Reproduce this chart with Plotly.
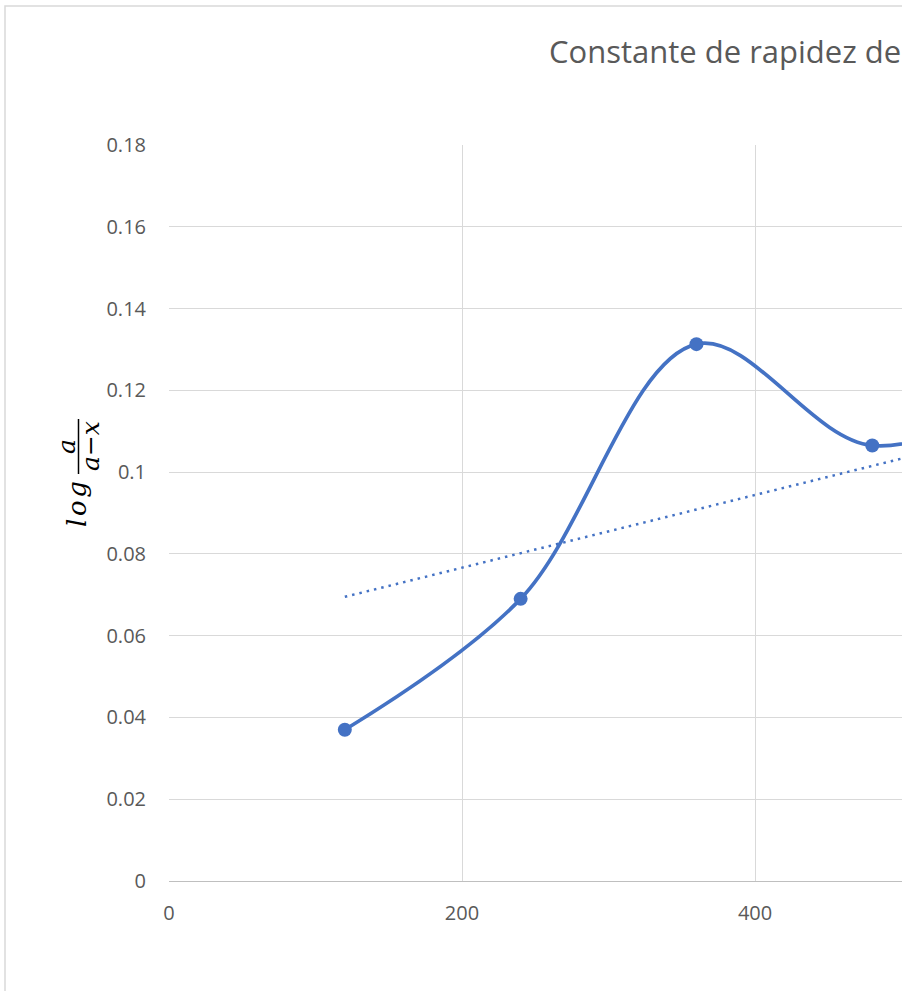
import plotly.graph_objects as go

# Data
time_s = [120, 240, 360, 480, 600]
log_ratio = [0.037, 0.069, 0.1313, 0.1065, 0.122]
trend_x = [120, 600]
trend_y = [0.0695, 0.1122]
x_ticks = [0, 200, 400]
y_ticks = [0, 0.02, 0.04, 0.06, 0.08, 0.1, 0.12, 0.14, 0.16, 0.18]
title_text = "Constante de rapidez de"

VW, VH = 902, 991
PL, PT, PR, PB = 169, 145, 902, 881   # plot area in window pixels
W, H = VW, VH
L, T, R, B = PL, PT, VW - PR, VH - PB
PW, PH = PR - PL, PB - PT

def px(x):
    return (x - PL) / PW

def py(y):
    return (PB - y) / PH

BLUE = "#4472C4"
GREY = "#595959"
GRID = "#d9d9d9"

fig = go.Figure()
fig.add_trace(go.Scatter(
    x=trend_x, y=trend_y, mode="lines",
    line=dict(color=BLUE, width=2.5, dash="2.5px,5px"),
    hoverinfo="skip", showlegend=False,
))
fig.add_trace(go.Scatter(
    x=time_s, y=log_ratio, mode="lines+markers",
    line=dict(color=BLUE, width=3.7, shape="spline", smoothing=1),
    marker=dict(color=BLUE, size=14),
    showlegend=False,
))

fig.update_xaxes(
    range=[0, 500.3], tickvals=x_ticks, showgrid=True, gridcolor=GRID, gridwidth=1.3,
    zeroline=False, showline=True, linecolor="#bfbfbf", linewidth=1.3,
    ticks="outside", ticklen=14, tickcolor="rgba(0,0,0,0)",
    tickfont=dict(family="Open Sans", size=20, color=GREY),
)
fig.update_yaxes(
    range=[0, 0.18], tickvals=y_ticks, showgrid=True, gridcolor=GRID, gridwidth=1.3,
    zeroline=False, showline=False,
    ticks="outside", ticklen=18, tickcolor="rgba(0,0,0,0)",
    tickfont=dict(family="Open Sans", size=20, color=GREY),
)

MATH = dict(family="DejaVu Serif", size=26, color="#000000")
annotations = [
    dict(text=title_text, x=px(547), y=py(51), xref="paper", yref="paper",
         xanchor="left", yanchor="middle", showarrow=False,
         font=dict(family="Open Sans", size=31, color=GREY)),
    dict(text="<i>l\u200ao\u200ag</i>", x=px(77), y=py(504), xref="paper", yref="paper",
         textangle=-90, showarrow=False, xanchor="center", yanchor="middle",
         font=MATH),
    dict(text="<i>a</i>", x=px(66), y=py(447), xref="paper", yref="paper",
         textangle=-90, showarrow=False, xanchor="center", yanchor="middle",
         font=dict(family="DejaVu Serif", size=25, color="#000000")),
    dict(text="<i>a\u2212x</i>", x=px(91), y=py(446), xref="paper", yref="paper",
         textangle=-90, showarrow=False, xanchor="center", yanchor="middle",
         font=dict(family="DejaVu Serif", size=25, color="#000000")),
]

shapes = [
    dict(type="rect", xref="paper", yref="paper",
         x0=px(5), x1=px(VW + 20), y0=py(VH + 20), y1=py(6),
         line=dict(color=GRID, width=1.5), fillcolor="rgba(0,0,0,0)", layer="below"),
    dict(type="line", xref="paper", yref="paper",
         x0=px(78.5), x1=px(78.5), y0=py(419), y1=py(474),
         line=dict(color="#000000", width=1.5)),
]

fig.update_layout(
    width=W, height=H, margin=dict(l=L, r=R, t=T, b=B, pad=0),
    paper_bgcolor="white", plot_bgcolor="white",
    annotations=annotations, shapes=shapes, showlegend=False,
)

fig.write_html(
    "out.html",
    config={"displayModeBar": False},
    post_script="document.body.style.margin='0';document.body.style.overflow='hidden';",
)
